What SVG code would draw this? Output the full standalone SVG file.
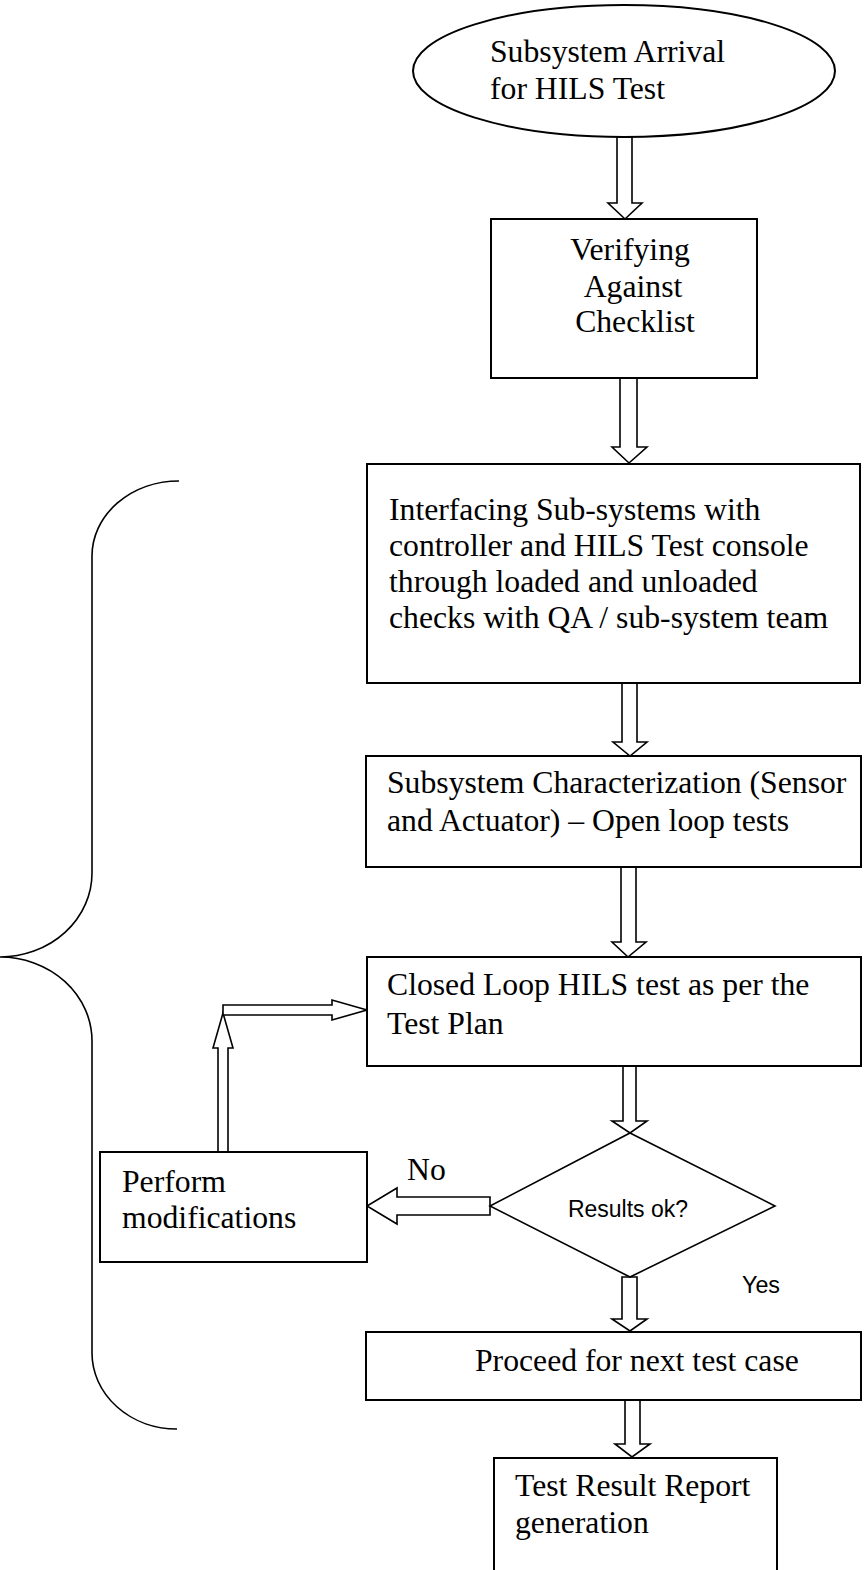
<svg xmlns="http://www.w3.org/2000/svg" width="866" height="1570" viewBox="0 0 866 1570">
<style>
.box{fill:#fff;stroke:#000;stroke-width:2}
.arr{fill:#fff;stroke:#000;stroke-width:1.6;stroke-linejoin:miter}
.t{font-family:"Liberation Serif","Times New Roman",serif;font-size:31.7px;fill:#000}
.s{font-family:"Liberation Sans",Arial,sans-serif;font-size:23px;fill:#000}
.brace{fill:none;stroke:#000;stroke-width:1.6}
</style>
<rect width="866" height="1570" fill="#fff"/>
<g id="brace">
<path class="brace" d="M179,481 A87,75 0 0 0 92,556 L92,873 A92,84 0 0 1 0,957 A92,84 0 0 1 92,1041 L92,1353 A85,76 0 0 0 177,1429"/>
</g>
<g id="connectors">
<polygon class="arr" points="617,137 632,137 632,203 642,203 625,219 608,203 617,203"/>
<polygon class="arr" points="620,378 637,378 637,447 647,447 629,463 612,447 620,447"/>
<polygon class="arr" points="622,683 637,683 637,742 647,742 630,756 613,742 622,742"/>
<polygon class="arr" points="621,867 636,867 636,942 646,942 628,957 612,942 621,942"/>
<polygon class="arr" points="623,1066 636,1066 636,1121 647,1121 630,1133 612,1121 623,1121"/>
<polygon class="arr" points="622,1277 637,1277 637,1319 647,1319 630,1331 612,1319 622,1319"/>
<polygon class="arr" points="625,1400 640,1400 640,1444 650,1444 632,1457 615,1444 625,1444"/>
<polygon class="arr" points="490,1197 490,1215 397,1215 397,1224 367,1206 397,1188 397,1197"/>
<polygon class="arr" points="218,1152 228,1152 228,1048 233,1048 223,1013 213,1048 218,1048"/>
<polygon class="arr" points="223,1005 332,1005 332,1000 367,1010 332,1020 332,1015 223,1015"/>
</g>
<g id="start">
<ellipse class="box" cx="624" cy="71" rx="211" ry="66"/>
<text class="t" x="490" y="62">Subsystem Arrival</text>
<text class="t" x="490" y="99">for HILS Test</text>
</g>
<g id="verify">
<rect class="box" x="491" y="219" width="266" height="159"/>
<text class="t" x="630" y="260" text-anchor="middle">Verifying</text>
<text class="t" x="633" y="297" text-anchor="middle">Against</text>
<text class="t" x="635" y="332" text-anchor="middle">Checklist</text>
</g>
<g id="interfacing">
<rect class="box" x="367" y="464" width="493" height="219"/>
<text class="t" x="389" y="520">Interfacing Sub-systems with</text>
<text class="t" x="389" y="556">controller and HILS Test console</text>
<text class="t" x="389" y="592">through loaded and unloaded</text>
<text class="t" x="389" y="628">checks with QA / sub-system team</text>
</g>
<g id="characterization">
<rect class="box" x="366" y="756" width="495" height="111"/>
<text class="t" x="387" y="793">Subsystem Characterization (Sensor</text>
<text class="t" x="387" y="831">and Actuator) – Open loop tests</text>
</g>
<g id="closedloop">
<rect class="box" x="367" y="957" width="494" height="109"/>
<text class="t" x="387" y="995">Closed Loop HILS test as per the</text>
<text class="t" x="387" y="1034">Test Plan</text>
</g>
<g id="decision">
<polygon points="630,1133 775,1206 630,1277 490,1206" fill="#fff" stroke="#000" stroke-width="1.6"/>
<text class="s" x="628" y="1217" text-anchor="middle" textLength="120" lengthAdjust="spacingAndGlyphs">Results ok?</text>
</g>
<g id="modify">
<rect class="box" x="100" y="1152" width="267" height="110"/>
<text class="t" x="122" y="1192">Perform</text>
<text class="t" x="122" y="1228">modifications</text>
</g>
<g id="labels">
<text class="t" x="407" y="1180">No</text>
<text class="s" x="742" y="1293" textLength="38" lengthAdjust="spacingAndGlyphs">Yes</text>
</g>
<g id="proceed">
<rect class="box" x="366" y="1332" width="495" height="68"/>
<text class="t" x="475" y="1371">Proceed for next test case</text>
</g>
<g id="report">
<rect class="box" x="494" y="1458" width="283" height="120"/>
<text class="t" x="515" y="1496">Test Result Report</text>
<text class="t" x="515" y="1533">generation</text>
</g>
</svg>
